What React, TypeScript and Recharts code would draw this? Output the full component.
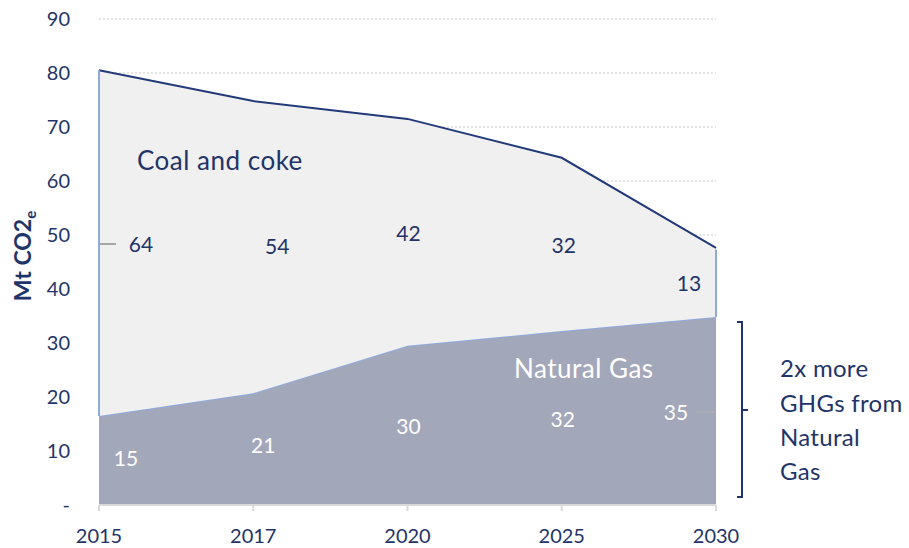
import React from "react";
import {
  AreaChart,
  Area,
  XAxis,
  YAxis,
  CartesianGrid,
  ReferenceDot,
  ReferenceLine,
} from "recharts";

// values
const years = ["2015", "2017", "2020", "2025", "2030"];
const gasValues = [16.5, 20.7, 29.5, 32.2, 34.8];
const coalValues = [64, 54.1, 42, 32.1, 12.8];
const gasLabels = ["15", "21", "30", "32", "35"];
const coalLabels = ["64", "54", "42", "32", "13"];
const yTicks = [0, 10, 20, 30, 40, 50, 60, 70, 80, 90];

// nudges for the data labels (px)
const gasLabelDx = [27, 10, 1, 1, -40];
const gasLabelDy = [-3, -5, 0, 0, 0];
const coalLabelDx = [42, 24, 1, 2, -27];
const coalLabelDy = [0, -2, 0, 0, 0];

const NAVY = "#1f3468";
const LINE_NAVY = "#22397a";
const EDGE_BLUE = "#8faadc";
const GAS_FILL = "#a3a7ba";
const COAL_FILL = "#f0f0f0";
const FONT = "Lato, 'Open Sans', sans-serif";

const data = years.map((year, i) => ({
  year,
  gas: gasValues[i],
  coal: coalValues[i],
}));

const valueLabel = (text: string, dx: number, dy: number, color: string) => (props: any) => {
  const vb = props.viewBox || {};
  const cx = vb.x + (vb.width || 0) / 2;
  const cy = vb.y + (vb.height || 0) / 2;
  return (
    <text
      x={cx + dx}
      y={cy + dy}
      textAnchor="middle"
      dominantBaseline="central"
      fill={color}
      fontSize={21}
      fontFamily={FONT}
    >
      {text}
    </text>
  );
};

const yAxisTitle = () => (
  <text
    transform="translate(31, 256) rotate(-90)"
    textAnchor="middle"
    fill={NAVY}
    fontSize={23}
    fontWeight="bold"
    fontFamily={FONT}
  >
    Mt CO2
    <tspan fontSize={15} dy={5}>e</tspan>
  </text>
);

export default function App() {
  const last = years.length - 1;
  return (
    <div style={{ position: "absolute", left: 0, top: 0, width: 909, height: 548, background: "#fff" }}>
      <AreaChart
        width={909}
        height={548}
        data={data}
        margin={{ top: 19, right: 193, bottom: 0, left: 39 }}
      >
        {/* dotted horizontal gridlines */}
        <CartesianGrid vertical={false} stroke="#c8c8c8" strokeDasharray="2 2" />
        <XAxis
          dataKey="year"
          height={43}
          axisLine={{ stroke: "#d9d9d9", strokeWidth: 2 }}
          tickLine={{ stroke: "#d9d9d9", strokeWidth: 2 }}
          tickSize={6}
          tickMargin={18}
          tick={{ fill: NAVY, fontSize: 20, fontFamily: FONT }}
        />
        <YAxis
          width={60}
          domain={[0, 90]}
          ticks={yTicks}
          axisLine={false}
          tickLine={false}
          tickSize={0}
          tickMargin={29}
          tickFormatter={(v: number) => (v === 0 ? "-" : String(v))}
          tick={{ fill: NAVY, fontSize: 20, fontFamily: FONT }}
          label={{ content: yAxisTitle }}
        />
        {/* stacked areas: gas at the bottom, coal on top */}
        <Area
          type="linear"
          dataKey="gas"
          stackId="a"
          fill={GAS_FILL}
          fillOpacity={1}
          stroke={EDGE_BLUE}
          strokeWidth={2}
          isAnimationActive={false}
        />
        <Area
          type="linear"
          dataKey="coal"
          stackId="a"
          fill={COAL_FILL}
          fillOpacity={1}
          stroke={LINE_NAVY}
          strokeWidth={2}
          isAnimationActive={false}
        />
        {/* light blue side edges of the coal band */}
        <ReferenceLine
          segment={[
            { x: years[0], y: gasValues[0] },
            { x: years[0], y: gasValues[0] + coalValues[0] },
          ]}
          stroke={EDGE_BLUE}
          strokeWidth={2}
        />
        <ReferenceLine
          segment={[
            { x: years[last], y: gasValues[last] },
            { x: years[last], y: gasValues[last] + coalValues[last] - 0.3 },
          ]}
          stroke={EDGE_BLUE}
          strokeWidth={2}
        />
        {/* data labels in the middle of each band */}
        {years.map((year, i) => (
          <ReferenceDot
            key={"g" + year}
            x={year}
            y={gasValues[i] / 2}
            r={1}
            fillOpacity={0}
            stroke="none"
            label={valueLabel(gasLabels[i], gasLabelDx[i], gasLabelDy[i], "#ffffff")}
          />
        ))}
        {years.map((year, i) => (
          <ReferenceDot
            key={"c" + year}
            x={year}
            y={gasValues[i] + coalValues[i] / 2}
            r={1}
            fillOpacity={0}
            stroke="none"
            label={valueLabel(coalLabels[i], coalLabelDx[i], coalLabelDy[i], NAVY)}
          />
        ))}
      </AreaChart>

      {/* annotations drawn over the chart */}
      <svg
        width={909}
        height={548}
        style={{ position: "absolute", left: 0, top: 0, pointerEvents: "none" }}
      >
        <line x1={100} y1={244} x2={116} y2={244} stroke="#a6a6a6" strokeWidth={2} />
        <line x1={696} y1={412} x2={715} y2={412} stroke="#b4b4b4" strokeWidth={1} />
        <text x={137} y={170} fill={NAVY} fontSize={26} letterSpacing={0.5} fontFamily={FONT}>
          Coal and coke
        </text>
        <text x={514} y={378} fill="#ffffff" fontSize={26} letterSpacing={0.5} fontFamily={FONT}>
          Natural Gas
        </text>
        <path
          d="M737 322 H742 V497 H737 M742 410 H748"
          fill="none"
          stroke={NAVY}
          strokeWidth={2}
        />
        <text fill={NAVY} fontSize={24} letterSpacing={0.3} fontFamily={FONT}>
          <tspan x={780} y={377}>2x more</tspan>
          <tspan x={780} y={412}>GHGs from</tspan>
          <tspan x={780} y={446}>Natural</tspan>
          <tspan x={780} y={480}>Gas</tspan>
        </text>
      </svg>
    </div>
  );
}
